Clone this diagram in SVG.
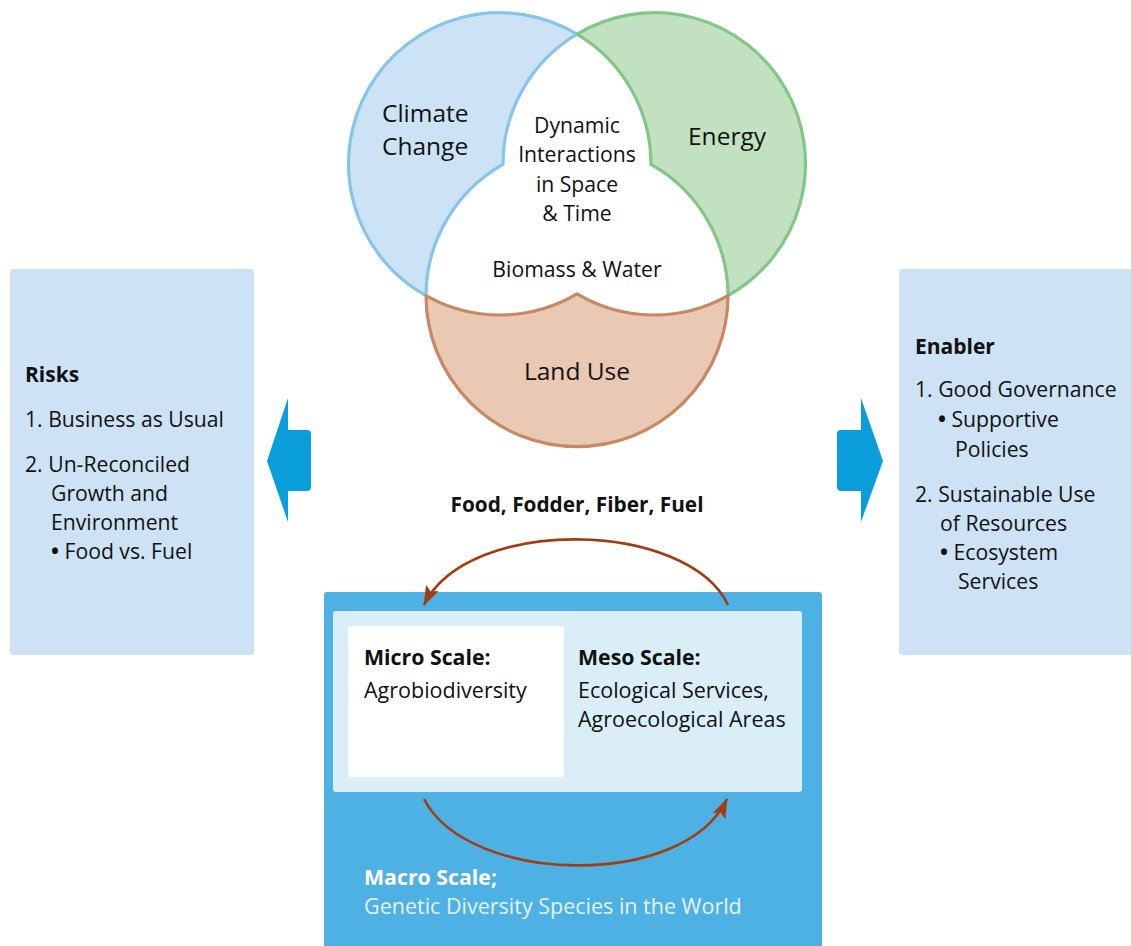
<svg xmlns="http://www.w3.org/2000/svg" width="1131" height="946" viewBox="0 0 1131 946">
<style>
text{font-family:"Open Sans","Noto Sans","Liberation Sans",sans-serif;fill:#111;}
.venn{font-size:24.5px;}
.mid{font-size:21.2px;text-anchor:middle;}
.side{font-size:21.2px;}
.b{font-weight:bold;}
.hd{font-size:21px;}
.scale{font-size:21.5px;}
.sb{font-size:21.3px;font-weight:bold;}
.bul{font-weight:bold;}
.white{fill:#ffffff;}
.pale{fill:#e6f3fb;}
.panel{fill:#cde3f5;}
.bigarrow{fill:#0a9ddb;}
.conn{fill:none;stroke:#a23d12;stroke-width:2.6;}
</style>
<defs>
<marker id="ah" markerUnits="userSpaceOnUse" markerWidth="20" markerHeight="16" viewBox="0 0 20 16" refX="19" refY="8" orient="auto">
<path d="M0,1 L20,8 L0,15 L4,8 Z" fill="#a23d12"/>
</marker>
</defs>

<g id="venn">
<g id="climate">
<path d="M577,34.1 A151,151 0 1 0 426,295.6 A151,151 0 0 1 503,164.4 A151,151 0 0 1 577,34.1 Z" fill="#cce3f5" stroke="#86c5ea" stroke-width="3.2" stroke-linejoin="round"/>
<text class="venn" x="382" y="122">Climate</text>
<text class="venn" x="382" y="155">Change</text>
</g>
<g id="energy">
<path d="M577,34.1 A151,151 0 1 1 728,295.6 A151,151 0 0 0 651,164.4 A151,151 0 0 0 577,34.1 Z" fill="#c2e1c1" stroke="#82c785" stroke-width="3.2" stroke-linejoin="round"/>
<text class="venn" x="727" y="145" text-anchor="middle">Energy</text>
</g>
<g id="landuse">
<path d="M426,295.6 A151,151 0 1 0 728,295.6 A151,151 0 0 1 577,293.9 A151,151 0 0 1 426,295.6 Z" fill="#e9c9b4" stroke="#c98864" stroke-width="3.2" stroke-linejoin="round"/>
<text class="venn" x="577" y="380" text-anchor="middle">Land Use</text>
</g>
<g id="center">
<text class="mid" x="577" y="133">Dynamic</text>
<text class="mid" x="577" y="162">Interactions</text>
<text class="mid" x="577" y="192">in Space</text>
<text class="mid" x="577" y="221">&amp; Time</text>
<text class="mid" x="577" y="277" font-size="22">Biomass &amp; Water</text>
</g>
</g>

<g id="risks">
<rect class="panel" x="10" y="269" width="244" height="386" rx="3"/>
<text class="hd b" x="25" y="382">Risks</text>
<text class="side" x="25" y="427">1. Business as Usual</text>
<text class="side" x="25" y="472">2. Un-Reconciled</text>
<text class="side" x="51" y="501">Growth and</text>
<text class="side" x="51" y="530">Environment</text>
<text class="side" x="51" y="559"><tspan class="bul">•</tspan> Food vs. Fuel</text>
</g>

<g id="risk-arrow">
<path class="bigarrow" d="M267,461 L288,398 L288,430 L307,430 Q311,430 311,434 L311,487 Q311,491 307,491 L288,491 L288,522 Z"/>
</g>

<g id="enabler">
<rect class="panel" x="899" y="269" width="240" height="386" rx="3"/>
<text class="hd b" x="915" y="354">Enabler</text>
<text class="side" x="915" y="397">1. Good Governance</text>
<text class="side" x="938" y="427"><tspan class="bul">•</tspan> Supportive</text>
<text class="side" x="955" y="457">Policies</text>
<text class="side" x="915" y="502">2. Sustainable Use</text>
<text class="side" x="940" y="531">of Resources</text>
<text class="side" x="940" y="560"><tspan class="bul">•</tspan> Ecosystem</text>
<text class="side" x="958" y="589">Services</text>
</g>

<g id="enabler-arrow">
<path class="bigarrow" d="M883,461 L861,398 L861,430 L841,430 Q837,430 837,434 L837,487 Q837,491 841,491 L861,491 L861,522 Z"/>
</g>

<g id="ffff">
<text class="b" x="577" y="512" text-anchor="middle" font-size="20.8">Food, Fodder, Fiber, Fuel</text>
</g>

<g id="macro">
<rect x="324" y="592" width="498" height="360" rx="3" fill="#4db1e4"/>
<text class="sb white" x="364" y="885">Macro Scale;</text>
<text class="scale pale" x="364" y="914">Genetic Diversity Species in the World</text>
</g>
<g id="meso">
<rect x="333" y="611" width="469" height="181" rx="3" fill="#daeef8"/>
<text class="sb" x="578" y="665">Meso Scale:</text>
<text class="scale" x="578" y="698">Ecological Services,</text>
<text class="scale" x="578" y="727">Agroecological Areas</text>
</g>
<g id="micro">
<rect x="348" y="626" width="216" height="151" rx="3" fill="#ffffff"/>
<text class="sb" x="364" y="665">Micro Scale:</text>
<text class="scale" x="364" y="698">Agrobiodiversity</text>
</g>

<g id="connectors">
<path class="conn" d="M728,605 C688,520 468,515 424,605" marker-end="url(#ah)"/>
<path class="conn" d="M424,799 C468,885 684,890 727,799" marker-end="url(#ah)"/>
</g>
</svg>
